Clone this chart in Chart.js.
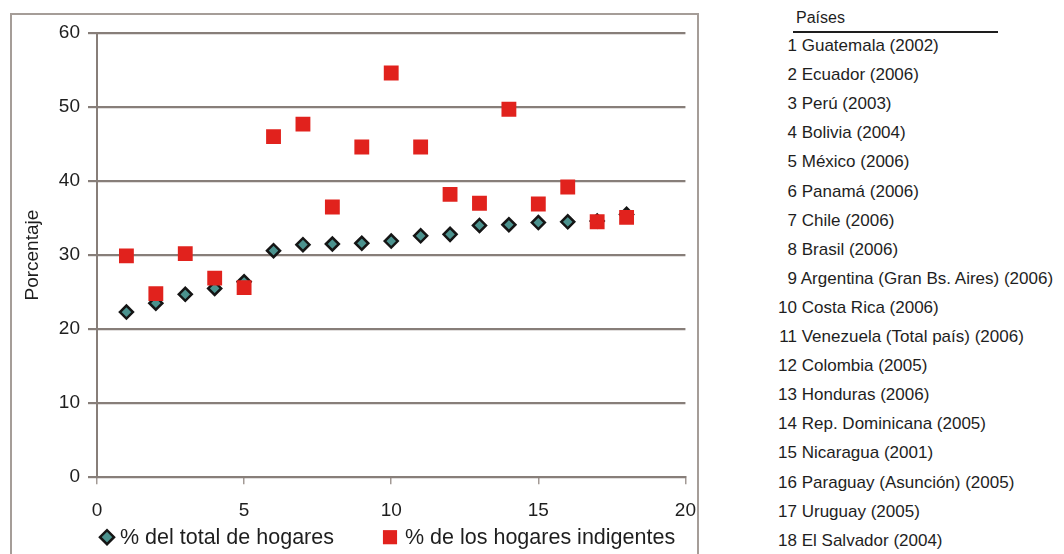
<!DOCTYPE html>
<html lang="es">
<head>
<meta charset="utf-8">
<title>Hogares indigentes por país</title>
<script src="https://cdn.jsdelivr.net/npm/chart.js@4.4.1/dist/chart.umd.min.js"></script>
<style>
  html, body { margin: 0; padding: 0; background: #fff; overflow: hidden; }
  body { width: 1064px; height: 554px; position: relative; font-family: 'Liberation Sans', Arial, sans-serif; }
  .marco { position: absolute; left: 10px; top: 13px; width: 685px; height: 600px; border: 2px solid #a59d98; }
  .grafico { position: absolute; left: 0; top: 0; width: 711px; height: 554px; }
  .lista { color: #1e1e1e; font-size: 17px; }
  .lista-titulo { position: absolute; left: 796px; top: 8px; line-height: 20px; font-size: 16px; }
  .lista-linea { position: absolute; left: 793px; top: 31px; width: 205px; height: 2px; background: #1e1e1e; }
  .fila { position: absolute; left: 777px; white-space: nowrap; line-height: 20px; }
  .fila .n { display: inline-block; width: 20px; text-align: right; }
</style>
</head>
<body>
<div class="marco"></div>
<div class="grafico"><canvas id="grafico"></canvas></div>
<div class="lista" id="lista">
  <div class="lista-titulo">Países</div>
  <div class="lista-linea"></div>
</div>

<script>
// ── Datos ────────────────────────────────────────────────────
const paises = [
  'Guatemala (2002)', 'Ecuador (2006)', 'Perú (2003)', 'Bolivia (2004)',
  'México (2006)', 'Panamá (2006)', 'Chile (2006)', 'Brasil (2006)',
  'Argentina (Gran Bs. Aires) (2006)', 'Costa Rica (2006)',
  'Venezuela (Total país) (2006)', 'Colombia (2005)', 'Honduras (2006)',
  'Rep. Dominicana (2005)', 'Nicaragua (2001)', 'Paraguay (Asunción) (2005)',
  'Uruguay (2005)', 'El Salvador (2004)'
];
const numeroPais        = [1, 2, 3, 4, 5, 6, 7, 8, 9, 10, 11, 12, 13, 14, 15, 16, 17, 18];
const totalHogares      = [22.3, 23.5, 24.7, 25.5, 26.4, 30.6, 31.4, 31.5, 31.6, 31.9, 32.6, 32.8, 34.0, 34.1, 34.4, 34.5, 34.6, 35.5];
const hogaresIndigentes = [29.9, 24.8, 30.2, 26.9, 25.6, 46.0, 47.7, 36.5, 44.6, 54.6, 44.6, 38.2, 37.0, 49.7, 36.9, 39.2, 34.5, 35.1];
const ticksY = [0, 10, 20, 30, 40, 50, 60];
const ticksX = [0, 5, 10, 15, 20];

const FUENTE = "'Liberation Sans', Arial, sans-serif";
const GRIS   = '#877e79';

// ── Lista de países (lado derecho) ───────────────────────────
const lista = document.getElementById('lista');
paises.forEach((p, i) => {
  const fila = document.createElement('div');
  fila.className = 'fila';
  fila.style.top = (46 + i * 29.1 - 10) + 'px';
  fila.innerHTML = `<span class="n">${numeroPais[i]}</span> ${p}`;
  lista.appendChild(fila);
});

// ── Leyenda inferior ─────────────────────────────────────────
const leyendaAbajo = {
  id: 'leyendaAbajo',
  afterDraw(chart, args, opts) {
    const { ctx, chartArea } = chart;
    const y = chartArea.bottom + opts.offsetY;
    ctx.save();
    ctx.font = `21.5px ${FUENTE}`;
    ctx.textBaseline = 'middle';
    chart.data.datasets.forEach((ds, i) => {
      const x = chartArea.left + opts.offsetX[i];
      ctx.fillStyle   = ds.backgroundColor;
      ctx.strokeStyle = ds.borderColor || ds.backgroundColor;
      ctx.lineWidth   = ds.borderWidth;
      Chart.helpers.drawPoint(ctx, {
        pointStyle: ds.pointStyle, radius: opts.radius[i], borderWidth: ds.borderWidth
      }, x, y);
      ctx.fillStyle = '#1e1e1e';
      ctx.fillText(ds.label, x + opts.gapTexto[i], y + 1);
    });
    ctx.restore();
  }
};

// ── Gráfico ──────────────────────────────────────────────────
const ejeY = s => { s.ticks = ticksY.map(v => ({ value: v })); };
const ejeX = s => { s.ticks = ticksX.map(v => ({ value: v })); };

new Chart(document.getElementById('grafico'), {
  type: 'scatter',
  data: {
    datasets: [
      {
        label: '% del total de hogares',
        data: numeroPais.map((x, i) => ({ x, y: totalHogares[i] })),
        pointStyle: 'rectRot',
        pointRadius: 6.5,
        pointHoverRadius: 6.5,
        borderWidth: 2.5,
        borderColor: '#151515',
        backgroundColor: '#4b928e',
        order: 2
      },
      {
        label: '% de los hogares indigentes',
        data: numeroPais.map((x, i) => ({ x, y: hogaresIndigentes[i] })),
        pointStyle: 'rect',
        pointRadius: 10.5,
        pointHoverRadius: 10.5,
        borderWidth: 0,
        backgroundColor: '#e1221d',
        order: 1
      }
    ]
  },
  options: {
    responsive: true,
    maintainAspectRatio: false,
    animation: false,
    layout: { padding: { top: 33, left: 14, right: 3, bottom: 17 } },
    scales: {
      x: {
        type: 'linear',
        min: 0, max: 20,
        afterBuildTicks: ejeX,
        grid: { drawOnChartArea: false, drawTicks: true, tickLength: 7, color: '#a39a95', lineWidth: 1.5 },
        border: { display: true, color: GRIS, width: 2 },
        ticks: { color: '#1e1e1e', padding: 15, font: { family: FUENTE, size: 19 } }
      },
      y: {
        min: 0, max: 60,
        afterBuildTicks: ejeY,
        afterFit: s => { s.width = 83; },
        grid: { color: GRIS, lineWidth: 2.2, drawTicks: true, tickLength: 9 },
        border: { display: true, color: GRIS, width: 2 },
        ticks: { color: '#1e1e1e', padding: 8, font: { family: FUENTE, size: 19 } },
        title: {
          display: true, text: 'Porcentaje', color: '#1e1e1e',
          padding: { top: 7, bottom: 0 },
          font: { family: FUENTE, size: 19 }
        }
      }
    },
    plugins: {
      legend: { display: false },
      tooltip: { enabled: false },
      leyendaAbajo: { offsetY: 60, offsetX: [10, 293], radius: [7, 10], gapTexto: [13, 15] }
    }
  },
  plugins: [leyendaAbajo]
});
</script>
</body>
</html>
